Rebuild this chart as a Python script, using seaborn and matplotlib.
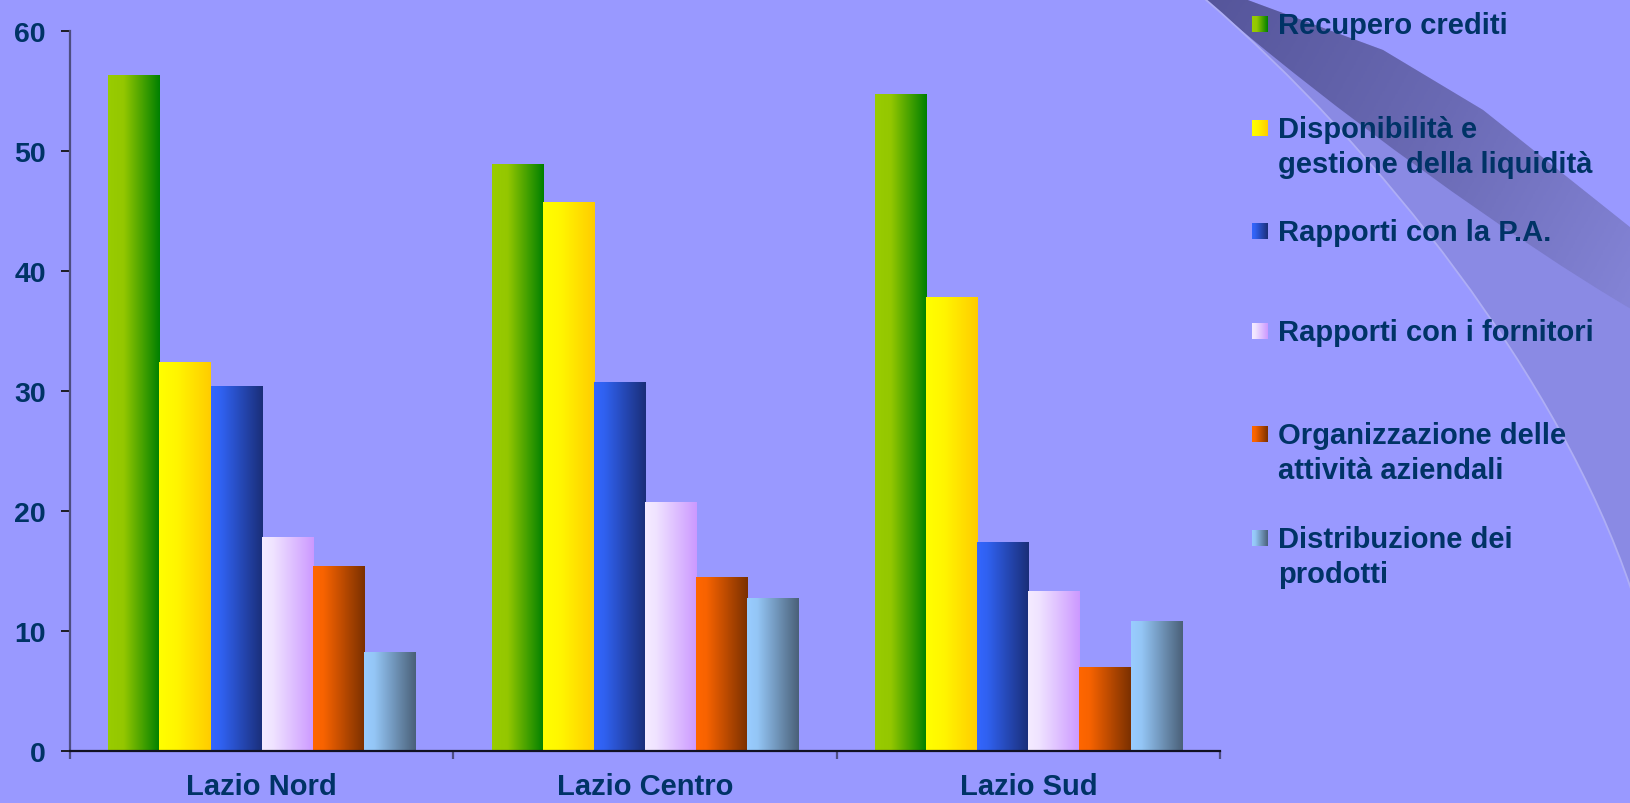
import numpy as np
import pandas as pd
import matplotlib
matplotlib.use("Agg")
import matplotlib.pyplot as plt
import seaborn as sns
from matplotlib.path import Path
from matplotlib.patches import PathPatch
from matplotlib.colors import LinearSegmentedColormap

# ---------------- data ----------------
regions = ["Lazio Nord", "Lazio Centro", "Lazio Sud"]
series = [
    "Recupero crediti",
    "Disponibilità e\ngestione della liquidità",
    "Rapporti con la P.A.",
    "Rapporti con i fornitori",
    "Organizzazione delle\nattività aziendali",
    "Distribuzione dei\nprodotti",
]
recupero_crediti = [56.3, 48.9, 54.7]
disponibilita_liquidita = [32.4, 45.7, 37.8]
rapporti_pa = [30.4, 30.7, 17.4]
rapporti_fornitori = [17.8, 20.7, 13.3]
organizzazione = [15.4, 14.5, 7.0]
distribuzione = [8.2, 12.7, 10.8]
y_ticks = [0, 10, 20, 30, 40, 50, 60]

values = [recupero_crediti, disponibilita_liquidita, rapporti_pa,
          rapporti_fornitori, organizzazione, distribuzione]

# gradient colour stops (left -> right) per series
grad_stops = [
    [(0.0, "#99CC00"), (0.3, "#94C700"), (1.0, "#008000")],
    [(0.0, "#FFFF00"), (0.35, "#FFF500"), (1.0, "#FFCC00")],
    [(0.0, "#3366FF"), (0.2, "#3061F0"), (1.0, "#1A2E78")],
    [(0.0, "#F5EBFF"), (0.2, "#F0E4FF"), (1.0, "#CC99FF")],
    [(0.0, "#FF6600"), (0.2, "#F86300"), (1.0, "#7A3000")],
    [(0.0, "#99CCFF"), (0.2, "#94C6F6"), (1.0, "#4A6078")],
]
cmaps = [LinearSegmentedColormap.from_list(f"g{i}", s) for i, s in enumerate(grad_stops)]

df = pd.DataFrame(
    [(r, s, v[j]) for s, v in zip(series, values) for j, r in enumerate(regions)],
    columns=["region", "series", "value"],
)

# ---------------- style ----------------
sns.set_style("white")
plt.rcParams["font.family"] = ["Liberation Sans", "DejaVu Sans"]
plt.rcParams["font.weight"] = "bold"

BG = "#9999FF"
TXT = "#003366"
W, H = 1631, 804

fig = plt.figure(figsize=(W / 100, H / 100), dpi=100, facecolor=BG)

# background axes in pixel coordinates (decoration + legend)
bg = fig.add_axes([0, 0, 1, 1], zorder=0)
bg.set_xlim(0, W)
bg.set_ylim(H, 0)
bg.axis("off")
bg.set_facecolor(BG)

# swoosh decoration
curve = [(1205, 0), (1380, 150), (1560, 380), (1631, 590)]
upper = [(1245, 0), (1383, 51), (1483, 111), (1631, 229)]
regA = Path(
    [(1205, 0), (1245, 0), upper[1], upper[2], upper[3], (1631, 590),
     curve[2], curve[1], curve[0], (1205, 0)],
    [Path.MOVETO, Path.LINETO, Path.LINETO, Path.LINETO, Path.LINETO, Path.LINETO,
     Path.CURVE4, Path.CURVE4, Path.CURVE4, Path.CLOSEPOLY],
)
bg.add_patch(PathPatch(regA, facecolor="#8A8AE4", edgecolor="none", zorder=1))

regB = Path(
    [(1205, 0), (1245, 0), upper[1], upper[2], upper[3], (1631, 310),
     (1520, 245), (1330, 110), (1205, 0), (1205, 0)],
    [Path.MOVETO, Path.LINETO, Path.LINETO, Path.LINETO, Path.LINETO, Path.LINETO,
     Path.CURVE4, Path.CURVE4, Path.CURVE4, Path.CLOSEPOLY],
)
pB = PathPatch(regB, facecolor="none", edgecolor="none", zorder=2)
bg.add_patch(pB)
xx, yy = np.meshgrid(np.linspace(0, 1, 200), np.linspace(0, 1, 200))
gB = 0.7 * xx + 0.3 * yy
cmB = LinearSegmentedColormap.from_list("sw", ["#55559A", "#6A6AB4", "#8585D8"])
imB = bg.imshow(gB, extent=(1200, 1631, 330, 0), cmap=cmB, aspect="auto",
                interpolation="bilinear", zorder=2)
imB.set_clip_path(pB)
lp = Path(curve, [Path.MOVETO, Path.CURVE4, Path.CURVE4, Path.CURVE4])
bg.add_patch(PathPatch(lp, facecolor="none", edgecolor="#AEAEF5", lw=1.3, zorder=3))

# ---------------- main chart ----------------
ax = fig.add_axes([70 / W, 52 / H, (1220 - 70) / W, (752 - 32.3) / H], zorder=2)
ax.patch.set_alpha(0)

sns.barplot(data=df, x="region", y="value", hue="series", order=regions,
            hue_order=series, palette=[s[0][1] for s in grad_stops],
            saturation=1, width=0.8, legend=False, edgecolor="none",
            linewidth=0, ax=ax)

grad = np.linspace(0, 1, 256).reshape(1, -1)
for i, cont in enumerate(ax.containers):
    for bar in cont:
        x0, w, h = bar.get_x(), bar.get_width(), bar.get_height()
        ax.imshow(grad, extent=(x0, x0 + w, 0, h), cmap=cmaps[i], aspect="auto",
                  origin="lower", interpolation="bilinear", zorder=2)
        bar.set_visible(False)

ax.set_xlim(-0.5, 2.5)
ax.set_ylim(0, 60)
ax.set_yticks(y_ticks)
ax.set_yticklabels([str(t) for t in y_ticks])
ax.set_xlabel("")
ax.set_ylabel("")

for s in ["top", "right"]:
    ax.spines[s].set_visible(False)
ax.spines["left"].set_color("#4D4D80")
ax.spines["left"].set_linewidth(1.6)
ax.spines["bottom"].set_color("#111122")
ax.spines["bottom"].set_linewidth(1.6)

ax.tick_params(axis="y", which="major", left=True, length=6.5, width=1.3,
               color="#111111", pad=11, labelsize=20.5, labelcolor=TXT)
for lab in ax.get_yticklabels():
    lab.set_fontweight("bold")

ax.set_xticks([-0.5, 0.5, 1.5, 2.5])
ax.set_xticklabels([])
ax.set_xticks([0, 1, 2], minor=True)
ax.set_xticklabels(regions, minor=True)
ax.tick_params(axis="x", which="major", bottom=True, direction="out", length=6,
               width=1.6, color="#4D4D80")
ax.tick_params(axis="x", which="minor", bottom=True, length=0, pad=15,
               labelsize=21, labelcolor=TXT)
for lab in ax.get_xticklabels(minor=True):
    lab.set_fontweight("bold")

# ---------------- legend (manual, in pixel coords) ----------------
baselines = [33, 137, 240, 340, 443, 547]
for i, (name, yb) in enumerate(zip(series, baselines)):
    bg.imshow(grad, extent=(1252, 1268, yb, yb - 16), cmap=cmaps[i], aspect="auto",
              interpolation="bilinear", zorder=4)
    bg.text(1278, yb - 21, name, ha="left", va="top", fontsize=21,
            fontweight="bold", color=TXT, linespacing=1.3, zorder=5)

bg.set_xlim(0, W)
bg.set_ylim(H, 0)

fig.savefig("out.png", dpi=100, facecolor=BG)
